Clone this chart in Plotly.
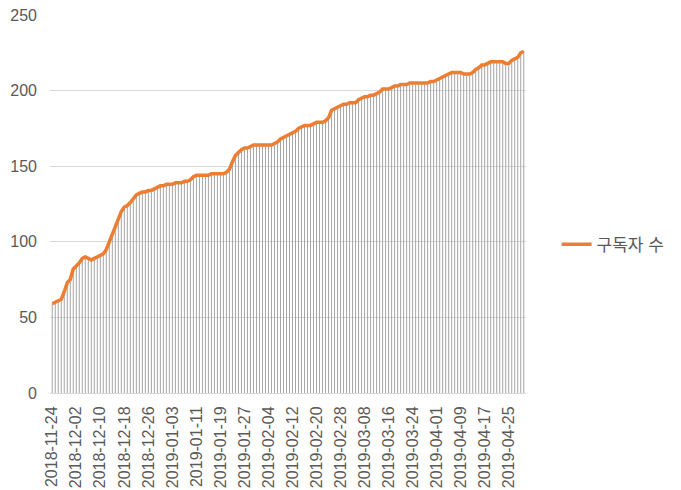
import datetime as dt
import plotly.graph_objects as go

start_date = "2018-11-24"
subscribers = [
    59, 60, 61, 62, 67, 73, 75, 82, 84, 86,
    89, 90, 89, 88, 89, 90, 91, 92, 95, 100,
    105, 111, 116, 120, 123, 124, 126, 129, 131, 132,
    133, 133, 134, 134, 135, 136, 137, 137, 138, 138,
    138, 139, 139, 139, 140, 140, 141, 143, 144, 144,
    144, 144, 144, 145, 145, 145, 145, 145, 146, 148,
    153, 157, 159, 161, 162, 162, 163, 164, 164, 164,
    164, 164, 164, 164, 165, 166, 168, 169, 170, 171,
    172, 173, 175, 176, 177, 177, 177, 178, 179, 179,
    179, 180, 182, 187, 188, 189, 190, 191, 191, 192,
    192, 192, 194, 195, 196, 196, 197, 197, 198, 199,
    201, 201, 201, 202, 203, 203, 204, 204, 204, 205,
    205, 205, 205, 205, 205, 205, 206, 206, 207, 208,
    209, 210, 211, 212, 212, 212, 212, 211, 211, 211,
    212, 214, 215, 217, 217, 218, 219, 219, 219, 219,
    219, 218, 218, 220, 221, 222, 225, 226,
]
series_name = "구독자 수"
y_ticks = [0, 50, 100, 150, 200, 250]

d0 = dt.date.fromisoformat(start_date)
dates = [d0 + dt.timedelta(days=i) for i in range(len(subscribers))]
tick_dates = dates[::8]

FONT = "Liberation Sans, Noto Sans CJK KR, sans-serif"

fig = go.Figure()
# drop lines
fig.add_trace(go.Scatter(
    x=dates, y=subscribers, mode="markers",
    marker=dict(size=0.1, opacity=0),
    error_y=dict(type="data", symmetric=False, array=[0] * len(subscribers),
                 arrayminus=subscribers, color="#a5a5a5", thickness=1, width=0),
    showlegend=False, hoverinfo="skip",
))
fig.add_trace(go.Scatter(
    x=dates, y=subscribers, mode="lines", name=series_name,
    line=dict(color="#ED7D31", width=3.5),
))

x0 = dt.datetime.combine(dates[0], dt.time()) - dt.timedelta(hours=18)
x1 = dt.datetime.combine(dates[-1], dt.time()) + dt.timedelta(hours=18)

fig.update_layout(
    width=681, height=490,
    margin=dict(l=50, r=154, t=15, b=97),
    paper_bgcolor="white", plot_bgcolor="white",
    font=dict(family=FONT, size=16, color="#595959"),
    legend=dict(x=1.062, xanchor="left", y=0.392, yanchor="middle",
                font=dict(size=17, color="#595959"), bgcolor="rgba(0,0,0,0)"),
    xaxis=dict(
        type="date", range=[x0, x1], automargin=False,
        tickmode="array", tickvals=tick_dates,
        ticktext=[d.strftime("%Y-%m-%d") for d in tick_dates],
        tickangle=-90, showgrid=False, showline=True, linecolor="#d9d9d9",
        linewidth=1, ticks="", ticklabelstandoff=6,
        tickfont=dict(size=16, color="#595959"),
    ),
    yaxis=dict(
        range=[0, 250], tickvals=y_ticks, showgrid=True, gridcolor="#d9d9d9",
        gridwidth=1, zeroline=False, showline=False, ticks="", automargin=False,
        ticklabelstandoff=12, tickfont=dict(size=16, color="#595959"),
    ),
)

fig.write_html(
    "out.html",
    config={"displayModeBar": False},
    post_script="document.body.style.margin='0';document.body.style.padding='0';",
)
